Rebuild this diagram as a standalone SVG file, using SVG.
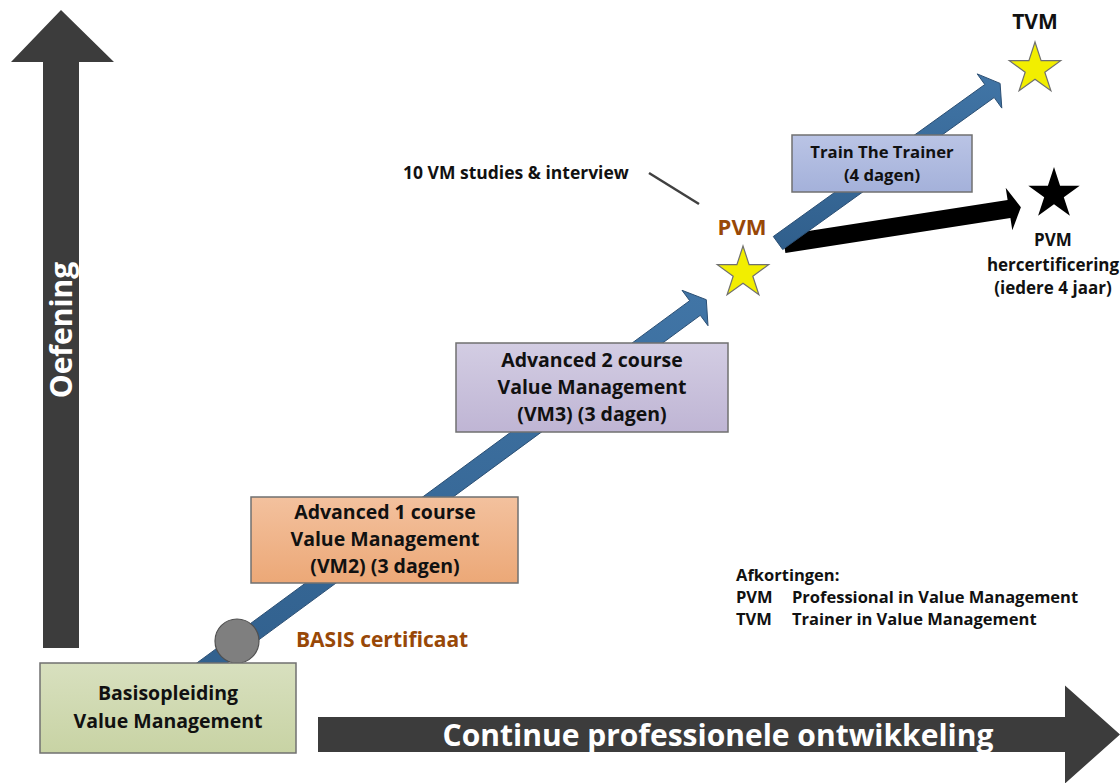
<svg xmlns="http://www.w3.org/2000/svg" width="1120" height="783" viewBox="0 0 1120 783">
<defs>
<style>
text{font-family:"Open Sans","Noto Sans","Liberation Sans",sans-serif;font-weight:bold;}
.c{text-anchor:middle;}
.box{stroke:#707070;stroke-width:1.5;}
.lbl{fill:#111;font-size:19.5px;}
.brown{fill:#984807;font-size:21px;}
.star{fill:#f2ee00;stroke:#707070;stroke-width:1.2;}
.blue{fill:url(#gBlue);stroke:#2b4f74;stroke-width:1;}
.dark{fill:#3c3c3c;}
</style>
<linearGradient id="gBlue" x1="0" y1="0" x2="0" y2="1"><stop offset="0" stop-color="#4175a6"/><stop offset="1" stop-color="#305f8c"/></linearGradient>
<linearGradient id="gGreen" x1="0" y1="0" x2="0" y2="1"><stop offset="0" stop-color="#d8e0bf"/><stop offset="1" stop-color="#c8d3a4"/></linearGradient>
<linearGradient id="gOrange" x1="0" y1="0" x2="0" y2="1"><stop offset="0" stop-color="#f3c19e"/><stop offset="1" stop-color="#eca877"/></linearGradient>
<linearGradient id="gPurple" x1="0" y1="0" x2="0" y2="1"><stop offset="0" stop-color="#d3cde3"/><stop offset="1" stop-color="#bfb5d4"/></linearGradient>
<linearGradient id="gTrain" x1="0" y1="0" x2="0" y2="1"><stop offset="0" stop-color="#bac4e5"/><stop offset="1" stop-color="#a4b1da"/></linearGradient>
</defs>

<g id="axis-oefening">
<polygon class="dark" points="61,10 114,62 79,62 79,648 43,648 43,62 11,62"/>
<text x="0" y="0" transform="translate(72,330) rotate(-90)" class="c" fill="#fff" font-size="30">Oefening</text>
</g>

<g id="axis-ontwikkeling">
<polygon class="dark" points="318,717 1065,717 1065,685.5 1120,734.5 1065,783.5 1065,752 318,752"/>
<text x="718" y="746" class="c" fill="#fff" font-size="30">Continue professionele ontwikkeling</text>
</g>

<g id="connectors">
<polygon class="blue" points="174.5,679.4 689.7,300.7 682,290.3 706.3,299.7 708,325.7 700.3,315.3 185.1,694"/>
<polygon fill="#000" points="782.6,235.1 1007.6,200.1 1005.7,187.8 1020.9,207.2 1012.3,230.2 1010.4,217.9 785.4,252.9"/>
<polygon class="blue" points="773.3,236.5 984.8,84.5 977.2,73.9 1000.1,83.4 1001.8,108.1 994.2,97.5 782.7,249.5"/>
<line x1="649" y1="173" x2="699" y2="204" stroke="#404040" stroke-width="2.5"/>
</g>

<g id="basis-certificaat">
<circle cx="237" cy="641" r="22" fill="#7f7f7f" stroke="#505050" stroke-width="1.2"/>
<text x="296" y="647" class="brown">BASIS certificaat</text>
</g>

<g id="basisopleiding">
<rect class="box" x="40" y="663" width="256" height="90" fill="url(#gGreen)"/>
<text x="168" y="700" class="c lbl">Basisopleiding</text>
<text x="168" y="728" class="c lbl">Value Management</text>
</g>

<g id="advanced1">
<rect class="box" x="251" y="497" width="267" height="86" fill="url(#gOrange)"/>
<text x="385" y="519" class="c lbl">Advanced 1 course</text>
<text x="385" y="546" class="c lbl">Value Management</text>
<text x="385" y="573" class="c lbl">(VM2) (3 dagen)</text>
</g>

<g id="advanced2">
<rect class="box" x="456" y="343" width="272" height="89" fill="url(#gPurple)"/>
<text x="592" y="367" class="c lbl">Advanced 2 course</text>
<text x="592" y="394" class="c lbl">Value Management</text>
<text x="592" y="421" class="c lbl">(VM3) (3 dagen)</text>
</g>

<g id="train-the-trainer">
<rect class="box" x="792" y="135" width="180" height="57" fill="url(#gTrain)"/>
<text x="882" y="158" class="c" fill="#111" font-size="16.7">Train The Trainer</text>
<text x="882" y="181" class="c" fill="#111" font-size="16.7">(4 dagen)</text>
</g>

<g id="studies">
<text x="403" y="179" fill="#111" font-size="17.5">10 VM studies &amp; interview</text>
</g>

<g id="pvm">
<text x="742" y="235" class="c brown" style="font-size:22px">PVM</text>
<polygon class="star" transform="translate(743,273)" points="0,-27 6.1,-8.3 25.7,-8.3 9.8,3.2 15.9,21.8 0,10.3 -15.9,21.8 -9.8,3.2 -25.7,-8.3 -6.1,-8.3"/>
</g>

<g id="tvm">
<text x="1035" y="29" class="c" fill="#111" font-size="21">TVM</text>
<polygon class="star" transform="translate(1035,69)" points="0,-27 6.1,-8.3 25.7,-8.3 9.8,3.2 15.9,21.8 0,10.3 -15.9,21.8 -9.8,3.2 -25.7,-8.3 -6.1,-8.3"/>
</g>

<g id="pvm-hercertificering">
<polygon fill="#000" transform="translate(1054,194)" points="0,-27 6.1,-8.3 25.7,-8.3 9.8,3.2 15.9,21.8 0,10.3 -15.9,21.8 -9.8,3.2 -25.7,-8.3 -6.1,-8.3"/>
<text x="1053" y="246" class="c" fill="#111" font-size="17">PVM</text>
<text x="1053" y="271" class="c" fill="#111" font-size="17">hercertificering</text>
<text x="1053" y="294" class="c" fill="#111" font-size="17">(iedere 4 jaar)</text>
</g>

<g id="afkortingen" fill="#111" font-size="16.5">
<text x="736" y="581">Afkortingen:</text>
<text x="736" y="603">PVM</text>
<text x="792" y="603">Professional in Value Management</text>
<text x="736" y="625">TVM</text>
<text x="792" y="625">Trainer in Value Management</text>
</g>
</svg>
